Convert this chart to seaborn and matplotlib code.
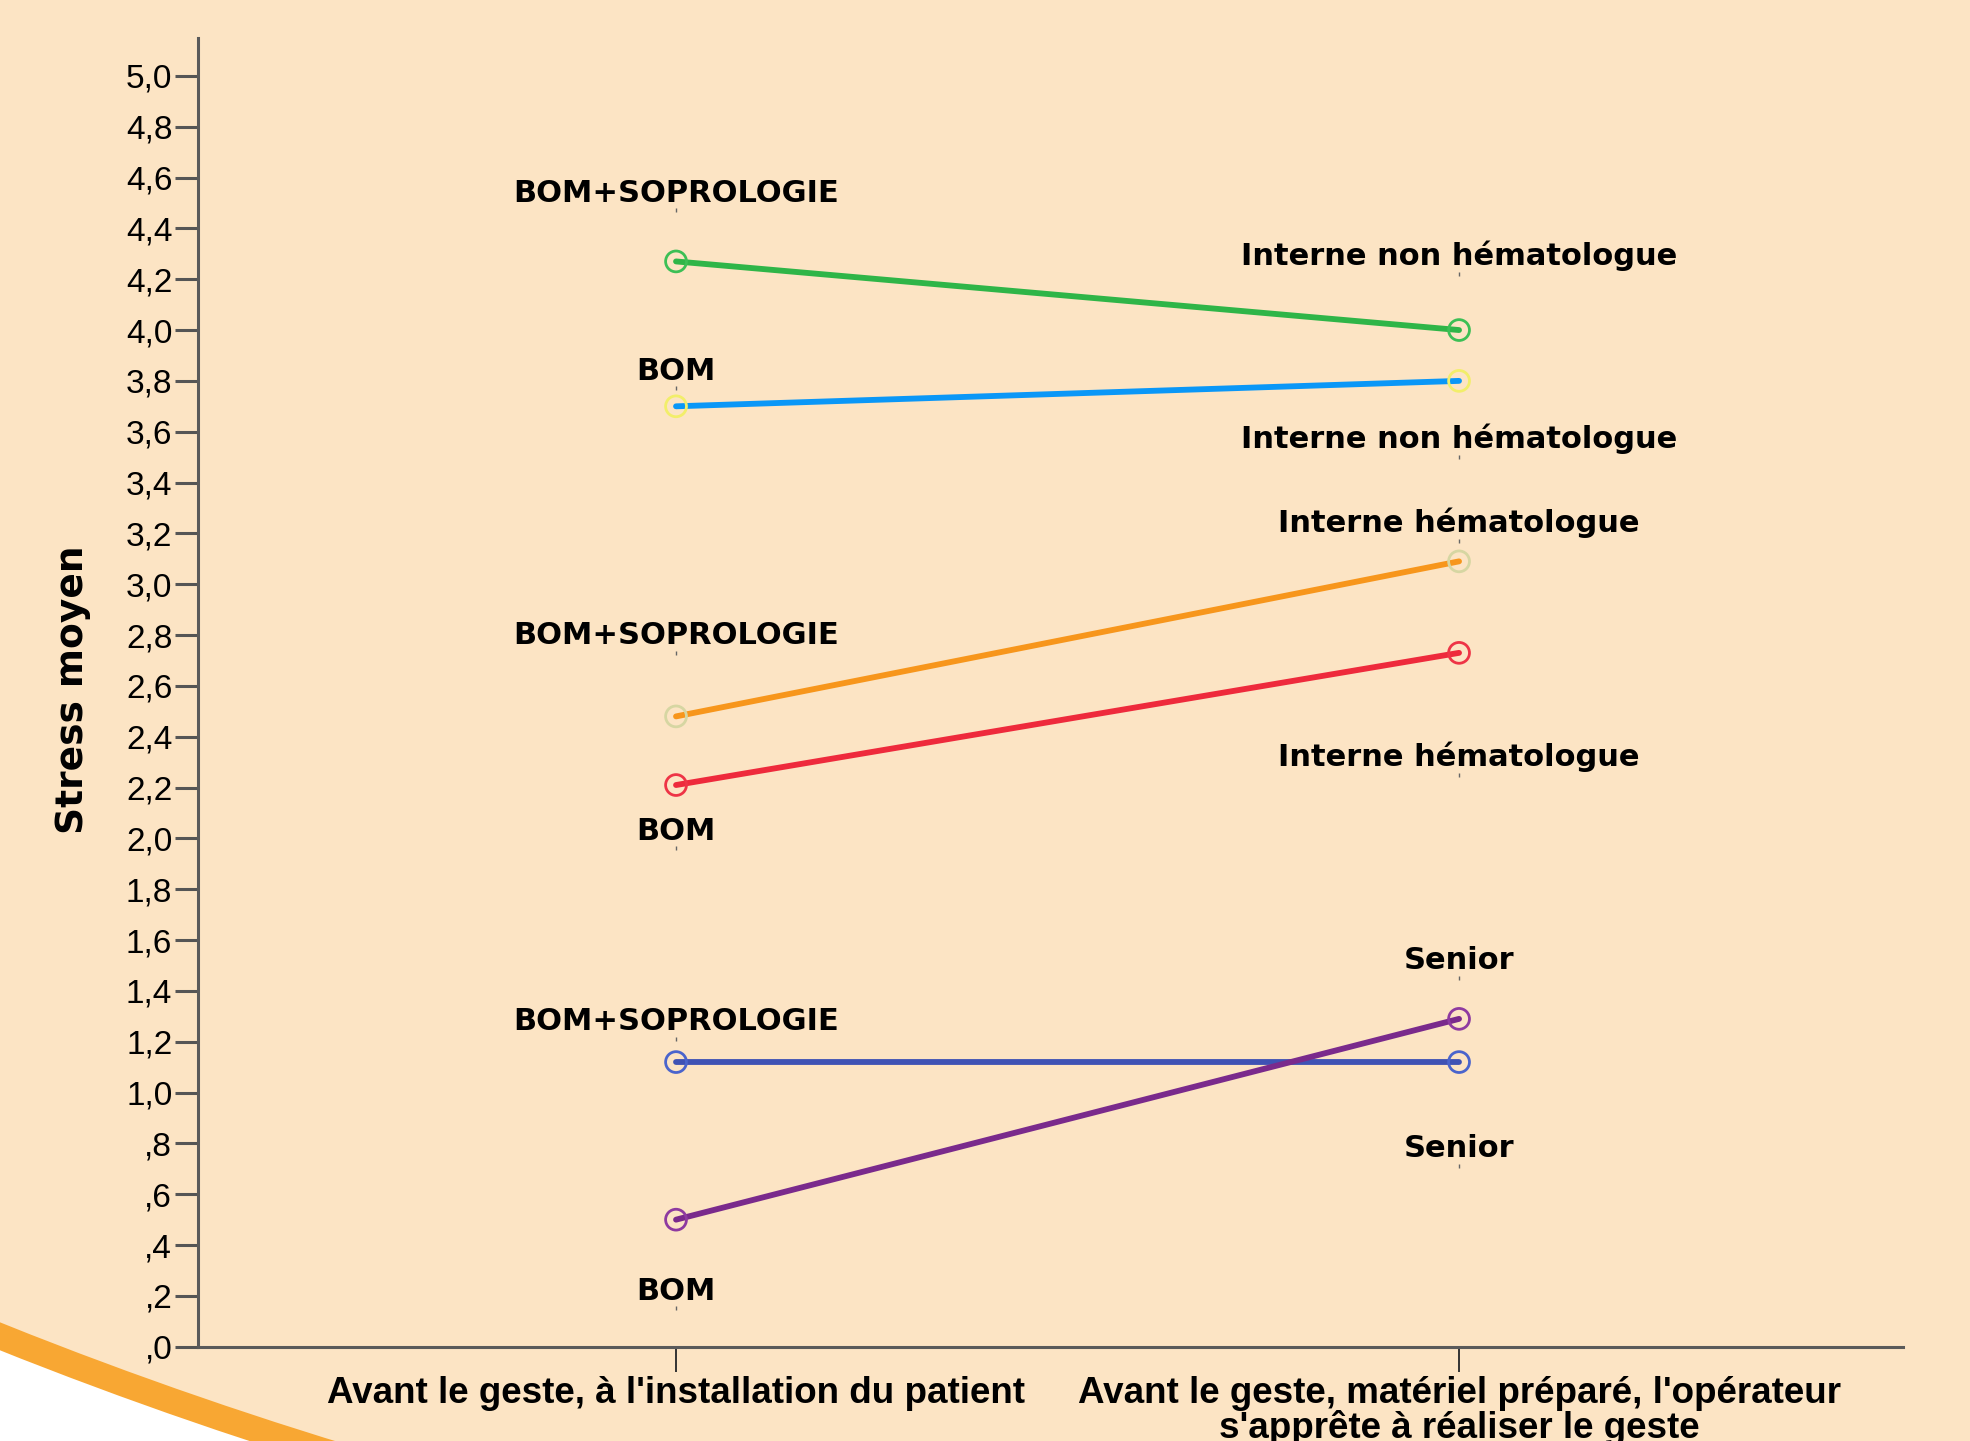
import matplotlib
matplotlib.use("Agg")
import numpy as np
import pandas as pd
import seaborn as sns
import matplotlib.pyplot as plt
from matplotlib.patches import Circle
from matplotlib import transforms

sns.set_style("ticks")
plt.rcParams["font.family"] = ["Liberation Sans", "DejaVu Sans"]

moments = ["Avant le geste, à l'installation du patient",
           "Avant le geste, matériel préparé, l'opérateur\ns'apprête à réaliser le geste"]
series = ["non_hemato_sopro", "non_hemato_bom", "hemato_sopro", "hemato_bom", "senior_sopro", "senior_bom"]
stress_installation = [4.27, 3.70, 2.48, 2.21, 1.12, 0.50]
stress_pret = [4.00, 3.80, 3.09, 2.73, 1.12, 1.29]

line_colors = ["#2fb548", "#0a97f7", "#f7961c", "#ee2a3c", "#3f52b4", "#7a2a8c"]
marker_colors = ["#3cbf55", "#f2ee6a", "#d6d6a2", "#ee3446", "#4a64cc", "#8e3aa0"]

left_labels = ["BOM+SOPROLOGIE", "BOM", "BOM+SOPROLOGIE", "BOM", "BOM+SOPROLOGIE", "BOM"]
left_label_y = [4.55, 3.85, 2.81, 2.04, 1.29, 0.23]
right_labels = ["Interne non hématologue", "Interne non hématologue", "Interne hématologue",
                "Interne hématologue", "Senior", "Senior"]
right_label_y = [4.30, 3.58, 3.25, 2.33, 1.53, 0.79]

yticks = np.arange(0, 5.01, 0.2)

df = pd.DataFrame({
    "serie": series * 2,
    "moment": [0] * len(series) + [1] * len(series),
    "stress": stress_installation + stress_pret,
})

peach = "#fce4c4"
fig = plt.figure(figsize=(19.7, 14.41), dpi=100, facecolor="white")
# fond pêche avec l'arc orange en bas à gauche
bg = Circle((1591, 4079), 4281, facecolor=peach, edgecolor="#f8a733", linewidth=18.7,
            transform=transforms.IdentityTransform(), zorder=-5)
fig.add_artist(bg)

ax = fig.add_axes([0.1005, 0.0654, 0.8655, 0.9084])
ax.set_facecolor("none")

sns.lineplot(data=df, x="moment", y="stress", hue="serie", palette=dict(zip(series, line_colors)),
             linewidth=4.2, legend=False, errorbar=None, ax=ax)
for s, mc in zip(series, marker_colors):
    sub = df[df["serie"] == s]
    ax.scatter(sub["moment"], sub["stress"], s=15 ** 2, facecolors="none", edgecolors=mc,
               linewidths=2.0, zorder=3)

# étiquettes des points
base = transforms.offset_copy(ax.transData, fig=fig, y=-11.5, units="dots")
mark = transforms.offset_copy(ax.transData, fig=fig, y=-20, units="dots")
for xpos, labels, ys in [(0, left_labels, left_label_y), (1, right_labels, right_label_y)]:
    for lab, yy in zip(labels, ys):
        ax.text(xpos, yy, lab, ha="center", va="baseline", fontsize=22, fontweight="bold",
                family="DejaVu Sans", color="black", transform=base)
        ax.plot([xpos], [yy], marker="|", markersize=3, color="#666666", transform=mark)

ax.set_xlim(-0.6105, 1.567)
ax.set_ylim(0, 5.15)
ax.set_yticks(yticks)
ax.set_yticklabels([f"{v:.1f}".replace(".", ",").lstrip("0") if v < 1 else f"{v:.1f}".replace(".", ",")
                    for v in yticks])
ax.set_xticks([0, 1])
ax.set_xticklabels(moments, fontsize=26.5, fontweight="bold", linespacing=0.95)

ax.tick_params(axis="y", length=16.5, width=2.2, color="#555555", labelsize=24, pad=2, labelcolor="black")
ax.tick_params(axis="x", length=18, width=1.4, color="#333333", pad=3, labelcolor="black")

sns.despine(ax=ax)
for side in ["left", "bottom"]:
    ax.spines[side].set_color("#5a5a5a")
    ax.spines[side].set_linewidth(2.2)

ax.set_xlabel("")
ax.set_ylabel("")
fig.text(73 / 1970, 1 - 690 / 1441, "Stress moyen", rotation=90, ha="center", va="center",
         fontsize=27, fontweight="bold", family="DejaVu Sans", color="black")

fig.savefig("out.png", dpi=100, facecolor="white")
